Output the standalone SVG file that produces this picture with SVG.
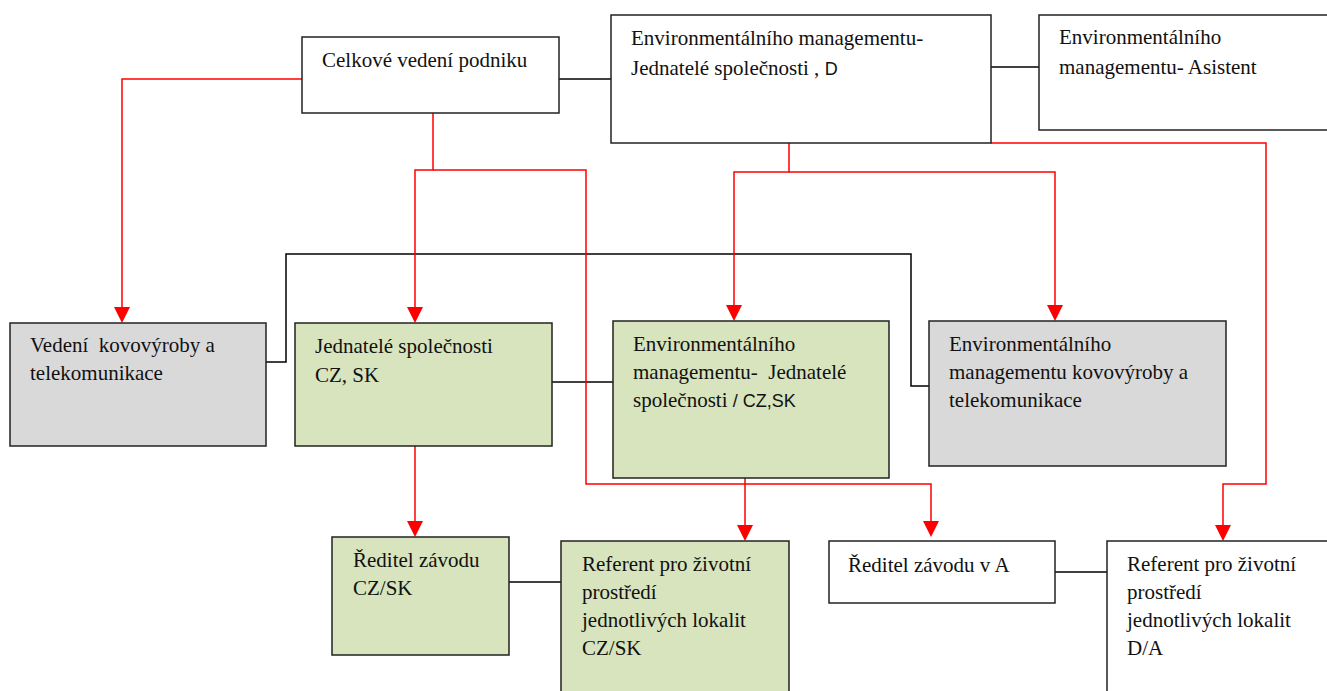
<svg xmlns="http://www.w3.org/2000/svg" width="1327" height="691" viewBox="0 0 1327 691">
<defs>
<style>
.box{stroke:#222;stroke-width:1.5}
.w{fill:#fff}
.g{fill:#d7e4bd}
.gr{fill:#d9d9d9}
.t{font-family:"Liberation Serif","Times New Roman",serif;font-size:21px;fill:#111}
.s{font-family:"Liberation Sans",Arial,sans-serif;font-size:18px}
.blk{fill:none;stroke:#000;stroke-width:1.5}
.red{fill:none;stroke:#f00;stroke-width:1.5}
</style>
<marker id="ah" viewBox="0 0 16 16" refX="2" refY="8" markerWidth="16" markerHeight="16" markerUnits="userSpaceOnUse" orient="auto">
<path d="M0,0 L16,8 L0,16 Z" fill="#f00"/>
</marker>
</defs>
<rect width="1327" height="691" fill="#fff"/>
<g id="connectors">
<path class="blk" d="M559,79 H611"/>
<path class="blk" d="M991,67 H1039"/>
<path class="blk" d="M266,362 H286 V254 H911 V386 H929"/>
<path class="blk" d="M552,382 H613"/>
<path class="blk" d="M509,582 H561"/>
<path class="blk" d="M1055,572 H1107"/>
<path class="red" d="M302,79 H122 V309" marker-end="url(#ah)"/>
<path class="red" d="M433,113 V170 H415 V309" marker-end="url(#ah)"/>
<path class="red" d="M433,170 H586 V484 H931 V523" marker-end="url(#ah)"/>
<path class="red" d="M415,411 V523" marker-end="url(#ah)"/>
<path class="red" d="M745,478 V527" marker-end="url(#ah)"/>
<path class="red" d="M789,143 V172 H734 V307" marker-end="url(#ah)"/>
<path class="red" d="M789,172 H1055 V307" marker-end="url(#ah)"/>
<path class="red" d="M991,143 H1266 V484 H1223 V527" marker-end="url(#ah)"/>
</g>
<g id="n1"><rect class="box w" x="302" y="37" width="257" height="76"/>
<text class="t" x="322" y="67">Celkové vedení podniku</text></g>
<g id="n2"><rect class="box w" x="611" y="15" width="380" height="128"/>
<text class="t" x="631" y="45">Environmentálního managementu-</text>
<text class="t" x="631" y="75">Jednatelé společnosti , <tspan class="s">D</tspan></text></g>
<g id="n3"><rect class="box w" x="1039" y="15" width="300" height="115"/>
<text class="t" x="1059" y="44">Environmentálního</text>
<text class="t" x="1059" y="74">managementu-  Asistent</text></g>
<g id="n4"><rect class="box gr" x="10" y="323" width="256" height="123"/>
<text class="t" x="30" y="352" xml:space="preserve">Vedení  kovovýroby a</text>
<text class="t" x="30" y="380">telekomunikace</text></g>
<g id="n5"><rect class="box g" x="295" y="323" width="257" height="123"/>
<text class="t" x="315" y="353">Jednatelé společnosti</text>
<text class="t" x="315" y="382">CZ, SK</text></g>
<g id="n6"><rect class="box g" x="613" y="321" width="276" height="157"/>
<text class="t" x="633" y="351">Environmentálního</text>
<text class="t" x="633" y="379" xml:space="preserve">managementu-  Jednatelé</text>
<text class="t" x="633" y="407">společnosti <tspan class="s">/ CZ,SK</tspan></text></g>
<g id="n7"><rect class="box gr" x="929" y="321" width="297" height="145"/>
<text class="t" x="949" y="351">Environmentálního</text>
<text class="t" x="949" y="379">managementu kovovýroby a</text>
<text class="t" x="949" y="407">telekomunikace</text></g>
<g id="n8"><rect class="box g" x="332" y="537" width="177" height="118"/>
<text class="t" x="353" y="567">Ředitel závodu</text>
<text class="t" x="353" y="595">CZ/SK</text></g>
<g id="n9"><rect class="box g" x="561" y="541" width="228" height="160"/>
<text class="t" x="582" y="571">Referent pro životní</text>
<text class="t" x="582" y="599">prostředí</text>
<text class="t" x="582" y="627">jednotlivých lokalit</text>
<text class="t" x="582" y="655">CZ/SK</text></g>
<g id="n10"><rect class="box w" x="829" y="541" width="226" height="62"/>
<text class="t" x="848" y="572">Ředitel závodu v A</text></g>
<g id="n11"><rect class="box w" x="1107" y="541" width="230" height="160"/>
<text class="t" x="1127" y="571">Referent pro životní</text>
<text class="t" x="1127" y="599">prostředí</text>
<text class="t" x="1127" y="627">jednotlivých lokalit</text>
<text class="t" x="1127" y="655">D/A</text></g>
</svg>
